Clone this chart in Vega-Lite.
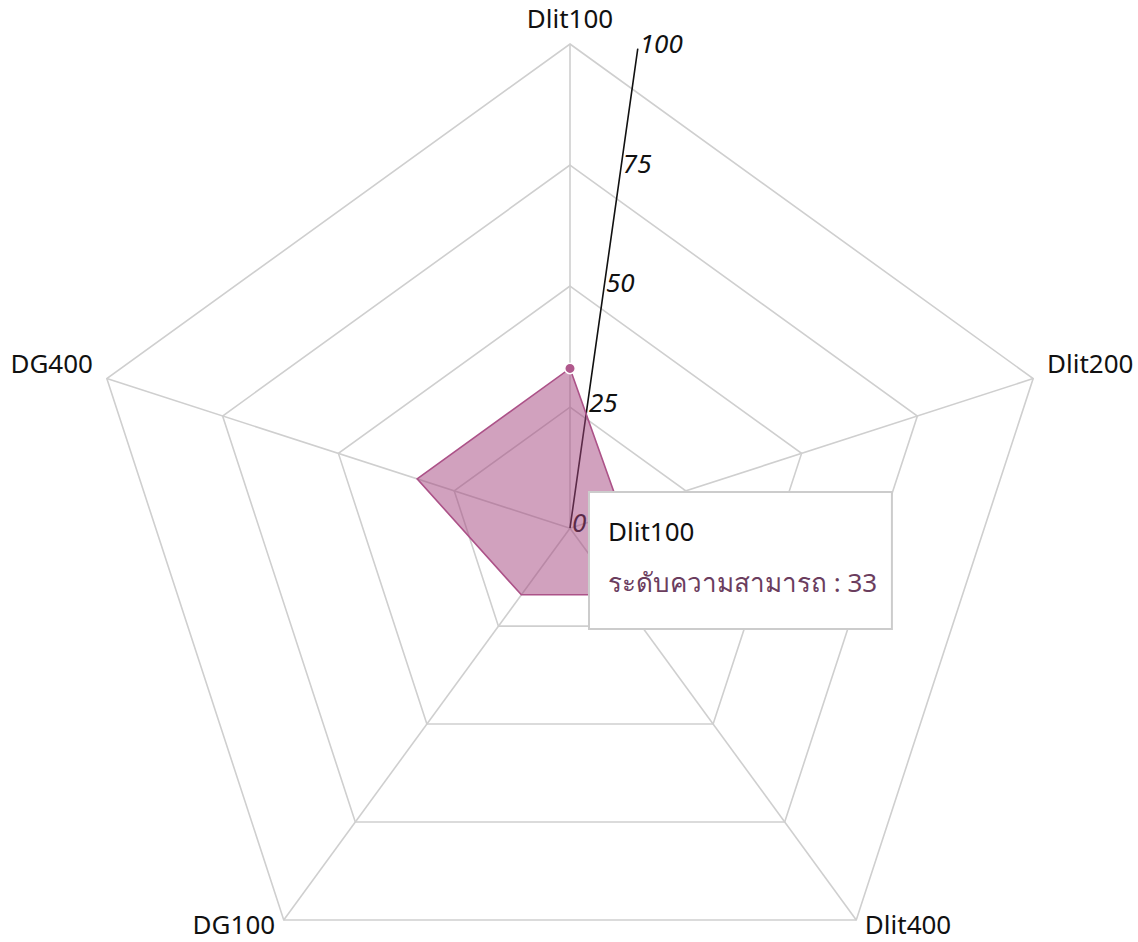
{
  "$schema": "https://vega.github.io/schema/vega-lite/v6.json",
  "width": 1138,
  "height": 942,
  "autosize": {"type": "fit", "contains": "padding"},
  "padding": 0,
  "background": "white",
  "config": {"view": {"stroke": null}, "font": "Noto Sans"},
  "datasets": {
    "scores": [
      {"skill": "Dlit100", "score": 33},
      {"skill": "Dlit200", "score": 11},
      {"skill": "Dlit400", "score": 17},
      {"skill": "DG100", "score": 17},
      {"skill": "DG400", "score": 33}
    ],
    "ticks": [{"tick": 0}, {"tick": 25}, {"tick": 50}, {"tick": 75}, {"tick": 100}]
  },
  "encoding": {
    "x": {"field": "X", "type": "quantitative", "axis": null, "scale": {"domain": [-117.04, 116.63], "nice": false, "zero": false}},
    "y": {"field": "Y", "type": "quantitative", "axis": null, "scale": {"domain": [-85.46, 109.09], "nice": false, "zero": false}}
  },
  "layer": [
    {
      "data": {"name": "scores"},
      "transform": [
        {"calculate": "indexof(['Dlit100','Dlit200','Dlit400','DG100','DG400'], datum.skill)", "as": "i"},
        {"calculate": "datum.i * 2 * PI / 5", "as": "theta"},
        {"calculate": "[25, 50, 75, 100]", "as": "lv"},
        {"flatten": ["lv"]},
        {"calculate": "datum.lv * sin(datum.theta)", "as": "X"},
        {"calculate": "datum.lv * cos(datum.theta)", "as": "Y"}
      ],
      "mark": {"type": "line", "interpolate": "linear-closed", "stroke": "#cfcfcf", "strokeWidth": 1.6},
      "encoding": {"detail": {"field": "lv"}, "order": {"field": "i", "type": "quantitative"}}
    },
    {
      "data": {"name": "scores"},
      "transform": [
        {"calculate": "indexof(['Dlit100','Dlit200','Dlit400','DG100','DG400'], datum.skill)", "as": "i"},
        {"calculate": "datum.i * 2 * PI / 5", "as": "theta"},
        {"calculate": "100 * sin(datum.theta)", "as": "X"},
        {"calculate": "100 * cos(datum.theta)", "as": "Y"}
      ],
      "mark": {"type": "rule", "stroke": "#cfcfcf", "strokeWidth": 1.6},
      "encoding": {"x2": {"datum": 0}, "y2": {"datum": 0}}
    },
    {
      "data": {"name": "ticks"},
      "transform": [
        {"calculate": "datum.tick * sin(8 * PI / 180)", "as": "X"},
        {"calculate": "datum.tick * cos(8 * PI / 180)", "as": "Y"}
      ],
      "mark": {"type": "line", "stroke": "#111111", "strokeWidth": 1.6},
      "encoding": {"order": {"field": "tick", "type": "quantitative"}}
    },
    {
      "data": {"name": "ticks"},
      "transform": [
        {"calculate": "datum.tick * sin(8 * PI / 180)", "as": "X"},
        {"calculate": "datum.tick * cos(8 * PI / 180)", "as": "Y"}
      ],
      "mark": {"type": "text", "align": "left", "baseline": "alphabetic", "dx": 2, "dy": 4, "fontSize": 26, "fontStyle": "italic", "color": "#111111"},
      "encoding": {"text": {"field": "tick", "type": "quantitative"}}
    },
    {
      "data": {"name": "scores"},
      "transform": [
        {"calculate": "indexof(['Dlit100','Dlit200','Dlit400','DG100','DG400'], datum.skill)", "as": "i"},
        {"calculate": "datum.i * 2 * PI / 5", "as": "theta"},
        {"calculate": "datum.score * sin(datum.theta)", "as": "X"},
        {"calculate": "datum.score * cos(datum.theta)", "as": "Y"}
      ],
      "mark": {"type": "line", "interpolate": "linear-closed", "fill": "#a3437d", "fillOpacity": 0.5, "stroke": "#ac5288", "strokeWidth": 1.6},
      "encoding": {"order": {"field": "i", "type": "quantitative"}}
    },
    {
      "data": {"name": "scores"},
      "transform": [
        {"filter": "datum.skill === 'Dlit100'"},
        {"calculate": "0", "as": "X"},
        {"calculate": "datum.score", "as": "Y"}
      ],
      "mark": {"type": "point", "filled": true, "size": 110, "color": "#b0588c", "stroke": "white", "strokeWidth": 1.5, "opacity": 1},
      "encoding": {}
    },
    {
      "data": {"name": "scores"},
      "transform": [
        {"calculate": "indexof(['Dlit100','Dlit200','Dlit400','DG100','DG400'], datum.skill)", "as": "i"},
        {"filter": "datum.i === 0"},
        {"calculate": "datum.i * 2 * PI / 5", "as": "theta"},
        {"calculate": "103.3 * sin(datum.theta)", "as": "X"},
        {"calculate": "103.3 * cos(datum.theta)", "as": "Y"}
      ],
      "mark": {"type": "text", "align": "center", "baseline": "alphabetic", "fontSize": 26, "color": "#111111"},
      "encoding": {"text": {"field": "skill"}}
    },
    {
      "data": {"name": "scores"},
      "transform": [
        {"calculate": "indexof(['Dlit100','Dlit200','Dlit400','DG100','DG400'], datum.skill)", "as": "i"},
        {"filter": "datum.i === 1 || datum.i === 2"},
        {"calculate": "datum.i * 2 * PI / 5", "as": "theta"},
        {"calculate": "103 * sin(datum.theta)", "as": "X"},
        {"calculate": "103.5 * cos(datum.theta)", "as": "Y"}
      ],
      "mark": {"type": "text", "align": "left", "baseline": "alphabetic", "fontSize": 26, "color": "#111111"},
      "encoding": {"text": {"field": "skill"}}
    },
    {
      "data": {"name": "scores"},
      "transform": [
        {"calculate": "indexof(['Dlit100','Dlit200','Dlit400','DG100','DG400'], datum.skill)", "as": "i"},
        {"filter": "datum.i === 3 || datum.i === 4"},
        {"calculate": "datum.i * 2 * PI / 5", "as": "theta"},
        {"calculate": "103 * sin(datum.theta)", "as": "X"},
        {"calculate": "103.5 * cos(datum.theta)", "as": "Y"}
      ],
      "mark": {"type": "text", "align": "right", "baseline": "alphabetic", "fontSize": 26, "color": "#111111"},
      "encoding": {"text": {"field": "skill"}}
    },
    {
      "data": {"name": "scores"},
      "transform": [
        {"filter": "datum.skill === 'Dlit100'"},
        {"calculate": "3.9", "as": "X"},
        {"calculate": "7.47", "as": "Y"}
      ],
      "mark": {"type": "rect", "fill": "white", "stroke": "#cccccc", "strokeWidth": 2},
      "encoding": {"x2": {"datum": 66.1}, "y2": {"datum": -20.8}}
    },
    {
      "data": {"name": "scores"},
      "transform": [
        {"filter": "datum.skill === 'Dlit100'"},
        {"calculate": "7.8", "as": "X"},
        {"calculate": "-2.64", "as": "Y"}
      ],
      "mark": {"type": "text", "align": "left", "baseline": "alphabetic", "fontSize": 26, "color": "#111111"},
      "encoding": {"text": {"field": "skill"}}
    },
    {
      "data": {"name": "scores"},
      "transform": [
        {"filter": "datum.skill === 'Dlit100'"},
        {"calculate": "'ระดับความสามารถ : ' + datum.score", "as": "label"},
        {"calculate": "7.8", "as": "X"},
        {"calculate": "-13.18", "as": "Y"}
      ],
      "mark": {"type": "text", "align": "left", "baseline": "alphabetic", "fontSize": 26, "color": "#6b3d5e"},
      "encoding": {"text": {"field": "label"}}
    }
  ]
}
